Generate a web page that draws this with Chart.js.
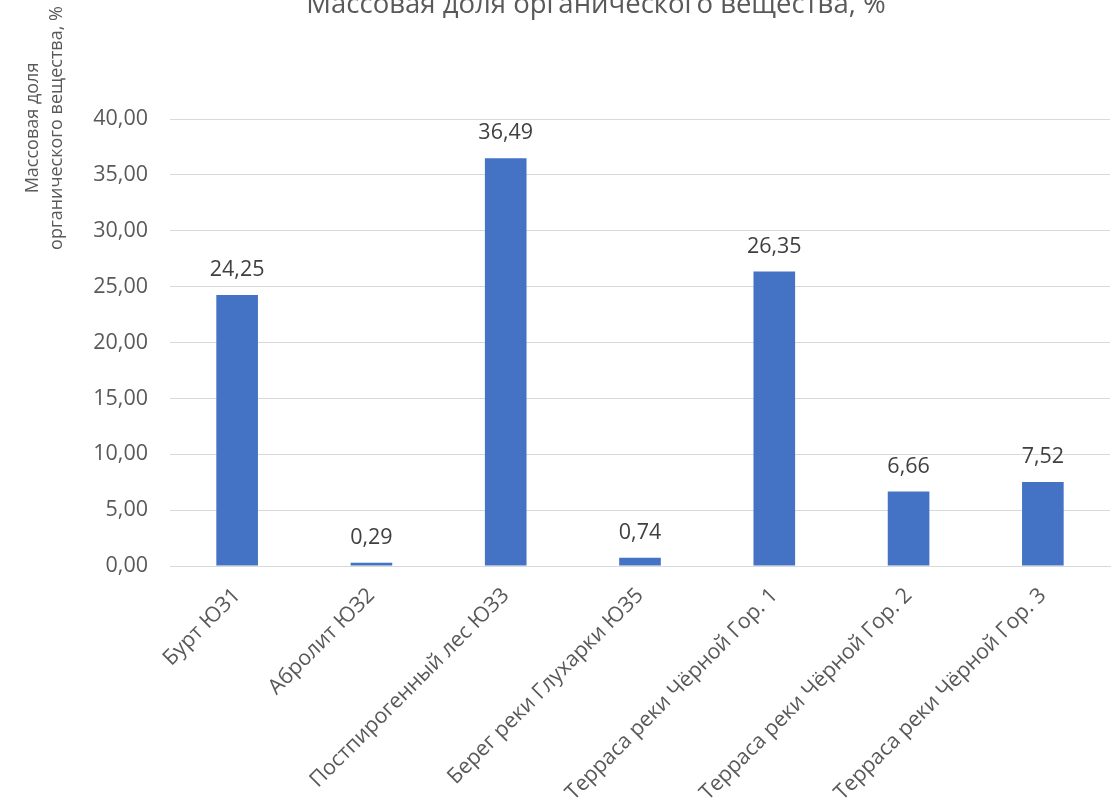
<!DOCTYPE html>
<html lang="ru">
<head>
<meta charset="utf-8">
<script src="https://cdn.jsdelivr.net/npm/chart.js@4.4.1/dist/chart.umd.min.js"></script>
<style>
  html, body { margin: 0; padding: 0; background: #ffffff; }
  #wrap { width: 1120px; height: 808px; position: relative; }
</style>
</head>
<body>
<div id="wrap"><canvas id="chart" width="1120" height="808"></canvas></div>
<script>
// Sample sites and organic matter mass fraction, %
const categories = [
  'Бурт ЮЗ1',
  'Абролит ЮЗ2',
  'Постпирогенный лес ЮЗ3',
  'Берег реки Глухарки ЮЗ5',
  'Терраса реки Чёрной Гор. 1',
  'Терраса реки Чёрной Гор. 2',
  'Терраса реки Чёрной Гор. 3'
];
const organicValues = [24.25, 0.29, 36.49, 0.74, 26.35, 6.66, 7.52];
const yTicks = [0, 5, 10, 15, 20, 25, 30, 35, 40];

const chartTitle = 'Массовая доля органического вещества, %';
const yTitleLines = ['Массовая доля', 'органического вещества, %'];

const FONT = '"Open Sans", "Noto Sans", sans-serif';
const fmt = v => v.toFixed(2).replace('.', ',');

// Title, rotated y-axis caption and value labels above bars
const annotations = {
  id: 'annotations',
  afterDatasetsDraw(chart) {
    const ctx = chart.ctx;
    ctx.save();
    // value labels
    const meta = chart.getDatasetMeta(0);
    ctx.font = '21.5px ' + FONT;
    ctx.fillStyle = '#404040';
    ctx.textAlign = 'center';
    ctx.textBaseline = 'middle';
    meta.data.forEach((bar, i) => {
      ctx.fillText(fmt(organicValues[i]), bar.x, bar.y - 25);
    });
    // chart title
    ctx.font = '27.5px ' + FONT;
    ctx.fillStyle = '#595959';
    ctx.textBaseline = 'alphabetic';
    ctx.fillText(chartTitle, 596, 13);
    // y-axis caption
    ctx.font = '18px ' + FONT;
    ctx.textBaseline = 'middle';
    ctx.translate(45, 128);
    ctx.rotate(-Math.PI / 2);
    ctx.fillText(yTitleLines[0], 0, -12);
    ctx.fillText(yTitleLines[1], 0, 12);
    ctx.restore();
  }
};

new Chart(document.getElementById('chart'), {
  type: 'bar',
  data: {
    labels: categories,
    datasets: [{
      data: organicValues,
      backgroundColor: '#4472C4',
      borderWidth: 0,
      barPercentage: 0.62,
      categoryPercentage: 0.5
    }]
  },
  options: {
    responsive: false,
    animation: false,
    devicePixelRatio: 1,
    layout: { padding: { left: 0, right: 10, top: 119, bottom: 0 } },
    plugins: {
      legend: { display: false },
      title: { display: false },
      tooltip: { enabled: false }
    },
    scales: {
      x: {
        grid: { display: false, drawTicks: false },
        border: { color: '#d9d9d9', width: 1 },
        ticks: {
          color: '#595959',
          font: { family: FONT, size: 21.3 },
          maxRotation: 45,
          minRotation: 45,
          autoSkip: false,
          padding: 17
        },
        afterFit(scale) { scale.height = 242; }
      },
      y: {
        min: 0,
        max: 40,
        afterBuildTicks(scale) { scale.ticks = yTicks.map(v => ({ value: v })); },
        grid: { color: '#d9d9d9', lineWidth: 1, drawTicks: false },
        border: { display: false },
        ticks: {
          color: '#595959',
          font: { family: FONT, size: 21.5 },
          padding: 22,
          callback: v => fmt(v)
        },
        afterFit(scale) { scale.width = 170; }
      }
    }
  },
  plugins: [annotations]
});
</script>
</body>
</html>
